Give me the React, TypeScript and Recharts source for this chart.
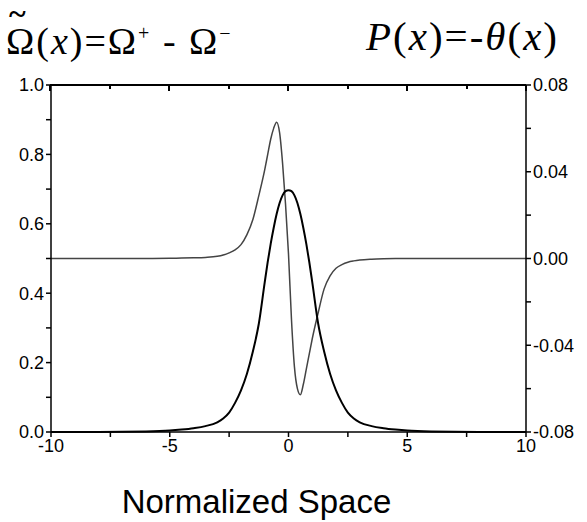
import { LineChart, Line, XAxis, YAxis } from "recharts";

// positions along the normalized space axis
const xValues = [
  -10, -8, -6, -5, -4.5, -4, -3.5, -3, -2.75, -2.5, -2.25, -2, -1.75, -1.5, -1.25, -1,
  -0.875, -0.75, -0.625, -0.5, -0.375, -0.25, -0.125, 0, 0.125, 0.25, 0.375, 0.5, 0.625,
  0.75, 0.875, 1, 1.25, 1.5, 1.75, 2, 2.25, 2.5, 2.75, 3, 3.5, 4, 4.5, 5, 6, 8, 10,
];

// Omega tilde (left axis)
const omegaValues = [
  0, 0.0003, 0.0015, 0.004, 0.007, 0.011, 0.017, 0.028, 0.039, 0.056, 0.084, 0.12, 0.168,
  0.232, 0.312, 0.432, 0.49, 0.542, 0.588, 0.628, 0.66, 0.682, 0.694, 0.697, 0.694, 0.682,
  0.66, 0.628, 0.588, 0.542, 0.49, 0.432, 0.312, 0.232, 0.168, 0.12, 0.084, 0.056, 0.039,
  0.028, 0.017, 0.011, 0.007, 0.004, 0.0015, 0.0003, 0,
];

// P(x) = -theta(x) (right axis)
const pValues = [
  0, 0, 0, 0.0001, 0.0002, 0.0003, 0.0005, 0.001, 0.0016, 0.0026, 0.004, 0.0064, 0.011,
  0.018, 0.029, 0.041, 0.048, 0.055, 0.06, 0.0628, 0.058, 0.044, 0.025, 0.002, -0.028,
  -0.05, -0.06, -0.0628, -0.058, -0.051, -0.044, -0.037, -0.025, -0.014, -0.008, -0.0045,
  -0.0028, -0.0017, -0.0011, -0.0007, -0.0003, -0.0001, 0, 0, 0, 0, 0,
];

const xTicks = [-10, -7.5, -5, -2.5, 0, 2.5, 5, 7.5, 10];
const leftTicks = [0, 0.1, 0.2, 0.3, 0.4, 0.5, 0.6, 0.7, 0.8, 0.9, 1.0];
const rightTicks = [-0.08, -0.06, -0.04, -0.02, 0, 0.02, 0.04, 0.06, 0.08];

const data = xValues.map((x, i) => ({ x, omega: omegaValues[i], p: pValues[i] }));

const tickFont = { fontFamily: "Liberation Sans, Arial, sans-serif", fontSize: 18, fill: "#000" };
const axisLine = { stroke: "#000", strokeWidth: 1.5 };
const serif = "Liberation Serif, Times New Roman, serif";

// plot box, used for the top frame line
const plotLeft = 50;
const plotRight = 526;
const plotTop = 85;

export default function App() {
  return (
    <div style={{ position: "absolute", left: 0, top: 0, width: 587, height: 522, background: "#fff" }}>
      <LineChart
        width={587}
        height={522}
        data={data}
        margin={{ top: 85, right: 11, bottom: 60, left: 13 }}
      >
        <XAxis
          xAxisId="bottom"
          dataKey="x"
          type="number"
          domain={[-10, 10]}
          ticks={xTicks}
          interval={0}
          height={30}
          tickSize={5}
          axisLine={axisLine}
          tickLine={axisLine}
          tick={tickFont}
          tickFormatter={(v: number) => (v % 5 === 0 ? String(v) : "")}
        />
        <YAxis
          yAxisId="left"
          domain={[0, 1]}
          ticks={leftTicks}
          interval={0}
          width={38}
          tickSize={5}
          axisLine={axisLine}
          tickLine={axisLine}
          tick={tickFont}
          tickFormatter={(v: number) => (Math.round(v * 10) % 2 === 0 ? v.toFixed(1) : "")}
        />
        <YAxis
          yAxisId="right"
          orientation="right"
          domain={[-0.08, 0.08]}
          ticks={rightTicks}
          interval={0}
          width={50}
          tickSize={5}
          axisLine={axisLine}
          tickLine={axisLine}
          tick={tickFont}
          tickFormatter={(v: number) => (Math.round(v * 100) % 4 === 0 ? v.toFixed(2) : "")}
        />
        <Line
          xAxisId="bottom"
          yAxisId="right"
          dataKey="p"
          type="monotone"
          stroke="#444"
          strokeWidth={1.5}
          dot={false}
          isAnimationActive={false}
        />
        <Line
          xAxisId="bottom"
          yAxisId="left"
          dataKey="omega"
          type="monotone"
          stroke="#000"
          strokeWidth={2}
          dot={false}
          isAnimationActive={false}
        />
      </LineChart>

      {/* top frame with inward ticks */}
      <div style={{ position: "absolute", left: plotLeft, top: plotTop - 1, width: plotRight - plotLeft, height: 2, background: "#000" }} />
      {xTicks.map((t) => (
        <div
          key={t}
          style={{
            position: "absolute",
            left: plotLeft + ((t + 10) / 20) * (plotRight - plotLeft) - 1,
            top: plotTop,
            width: 2,
            height: t % 5 === 0 ? 6 : 4,
            background: "#000",
          }}
        />
      ))}

      <div style={{ position: "absolute", left: 6, top: 13, fontFamily: serif, fontSize: 38, lineHeight: "40px", letterSpacing: 2, color: "#000", whiteSpace: "nowrap" }}>
        <span style={{ position: "relative", display: "inline-block" }}>
          <span style={{ position: "absolute", left: 3, top: -16, lineHeight: "16px", fontWeight: "bold", fontSize: 32 }}>~</span>
          Ω
        </span>
        (<i>x</i>)=Ω<sup style={{ fontSize: 20 }}>+</sup> - Ω<sup style={{ fontSize: 20 }}>−</sup>
      </div>
      <div style={{ position: "absolute", left: 366, top: 16, fontFamily: serif, fontSize: 41, lineHeight: "40px", letterSpacing: 2, color: "#000", whiteSpace: "nowrap" }}>
        <i>P</i>(<i>x</i>)=-<i>θ</i>(<i>x</i>)
      </div>
      <div style={{ position: "absolute", left: 113, top: 482, width: 287, textAlign: "center", fontFamily: "Liberation Sans, Arial, sans-serif", fontSize: 33, lineHeight: "40px", color: "#000", whiteSpace: "nowrap" }}>
        Normalized Space
      </div>
    </div>
  );
}
